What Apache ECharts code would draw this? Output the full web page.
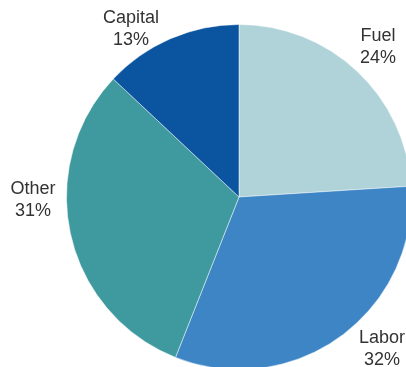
<!DOCTYPE html>
<html>
<head>
<meta charset="utf-8">
<script src="https://cdn.jsdelivr.net/npm/echarts@6/dist/echarts.min.js"></script>
<style>
  html, body { margin: 0; padding: 0; background: #fff; }
  #chart { width: 406px; height: 367px; }
</style>
</head>
<body>
<div id="chart"></div>
<script>
// Cost shares, clockwise from 12 o'clock
const categories = ['Fuel', 'Labor', 'Other', 'Capital'];
const shares = [24, 32, 31, 13];
const sliceColors = ['#afd3d8', '#3e85c6', '#3e9a9f', '#0b54a0'];

// Centre point of each slice label block
const labelSpots = [[378, 47], [382, 349], [33, 200], [131, 29]];

const chart = echarts.init(document.getElementById('chart'), null, { renderer: 'canvas' });

chart.setOption({
  animation: false,
  backgroundColor: '#ffffff',
  series: [{
    type: 'pie',
    center: [239, 197],
    radius: 172.5,
    startAngle: 90,
    clockwise: true,
    data: categories.map((name, i) => ({
      name: name,
      value: shares[i],
      itemStyle: { color: sliceColors[i] }
    })),
    itemStyle: { borderColor: 'rgba(255,255,255,0.6)', borderWidth: 0.8 },
    label: {
      show: true,
      position: 'inside',
      formatter: '{b}\n{d}%',
      color: '#333333',
      textBorderWidth: 0,
      fontFamily: 'Liberation Sans, Arial, sans-serif',
      fontSize: 18,
      lineHeight: 22,
      align: 'center',
      overflow: 'none'
    },
    labelLine: { show: false },
    labelLayout: function (params) {
      const p = labelSpots[params.dataIndex];
      return { x: p[0], y: p[1], align: 'center', verticalAlign: 'middle', hideOverlap: false };
    },
    emphasis: { disabled: true }
  }]
});
</script>
</body>
</html>
